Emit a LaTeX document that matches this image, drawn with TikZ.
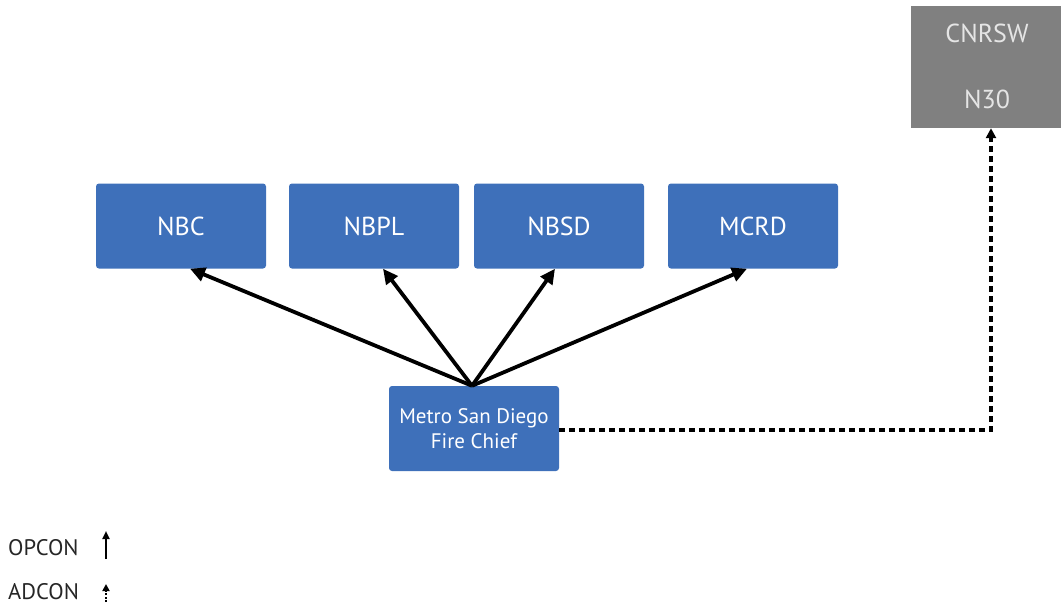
\documentclass[tikz,border=0pt]{standalone}
\usepackage{fontspec}
\setmainfont{PT Sans}
\usetikzlibrary{arrows.meta,calc}
\definecolor{boxblue}{RGB}{62,112,186}
\definecolor{boxgray}{RGB}{128,128,128}
\begin{document}
\begin{tikzpicture}[x=1pt,y=-1pt,
  bluebox/.style={draw=none,fill=boxblue,rounded corners=3pt,minimum width=170pt,minimum height=85pt,inner sep=0pt,text=white,font=\fontsize{26}{28}\selectfont},
  graybox/.style={draw=none,fill=boxgray,minimum width=150pt,minimum height=122pt,inner sep=0pt},
  graytext/.style={text=white!90!black,font=\fontsize{26}{28}\selectfont},
  opcon/.style={line width=3.8pt,-{Triangle[length=15pt,width=14pt]}},
  adcon/.style={line width=3.8pt,dash pattern=on 6pt off 4pt,-{Triangle[length=10pt,width=10pt]}},
  legtext/.style={anchor=west,inner sep=0pt,font=\fontsize{22.5}{24}\selectfont,text=black!85}]
\useasboundingbox (0,0) rectangle (1061,611);
\node[bluebox] (nbc) at (181,226) {NBC};
\node[bluebox] (nbpl) at (374,226) {NBPL};
\node[bluebox] (nbsd) at (559,226) {NBSD};
\node[bluebox] (mcrd) at (753,226) {MCRD};
\node[bluebox,font=\fontsize{21}{25}\selectfont,align=center] (fc) at (474,428.5) {Metro San Diego\\Fire Chief};
\node[graybox] (cnrsw) at (986,67) {};
\node[graytext] (cn) at (987,33) {CNRSW};
\node[graytext] (n30) at (987,99) {N30};
\coordinate (src) at ($(fc.north)+(-2,0)$);
\draw[opcon] (src) -- ($(nbc.south)+(9,0)$);
\draw[opcon] (src) -- ($(nbpl.south)+(9,0)$);
\draw[opcon] (src) -- ($(nbsd.south)+(-4,0)$);
\draw[opcon] (src) -- ($(mcrd.south)+(-6,0)$);
\coordinate (bend) at (991,430);
\draw[adcon] (fc.east |- bend) -- (bend) -- (bend |- cnrsw.south);
\node[legtext] (op) at (8,548) {OPCON};
\node[legtext] (ad) at (8,592) {ADCON};
\coordinate (opa) at (106,559);
\coordinate (opb) at (106,531);
\coordinate (ada) at (106,602);
\coordinate (adb) at (106,584);
\draw[line width=2.2pt,-{Triangle[length=8pt,width=7pt]}] (opa) -- (opb);
\draw[line width=2.8pt,dash pattern=on 2pt off 1.5pt,-{Triangle[length=7pt,width=7pt]}] (ada) -- (adb);
\end{tikzpicture}
\end{document}
